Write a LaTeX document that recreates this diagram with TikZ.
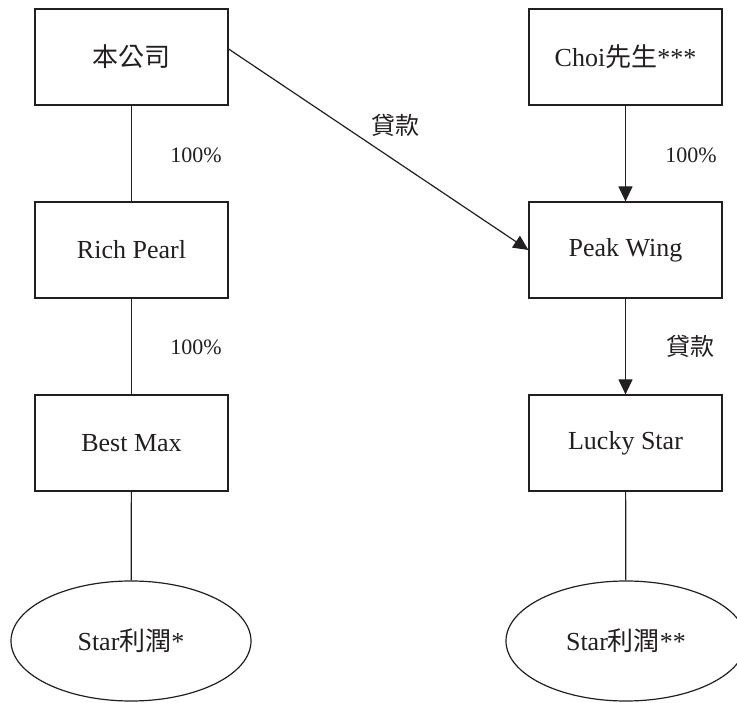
\documentclass[tikz,border=0pt]{standalone}
\usepackage{fontspec}
\setmainfont{Liberation Serif}
\newfontfamily\cjk{Noto Sans CJK TC}
\usetikzlibrary{arrows.meta,shapes.geometric}
\definecolor{ink}{HTML}{231F20}
\begin{document}
\begin{tikzpicture}[x=1pt,y=-1pt,
  box/.style={draw=ink,line width=1.2pt,minimum width=193pt,minimum height=96pt,inner sep=0pt,font=\fontsize{26}{30}\selectfont,text=ink},
  oval/.style={draw=ink,ellipse,line width=1.2pt,minimum width=240pt,minimum height=120pt,inner sep=0pt,font=\fontsize{26}{30}\selectfont,text=ink},
  conn/.style={draw=ink,line width=1.2pt},
  arr/.style={conn,-{Triangle[length=15pt,width=14pt]}},
  pct/.style={font=\fontsize{22}{26}\selectfont,text=ink,inner sep=0pt},
  loan/.style={font=\cjk\fontsize{24}{28}\selectfont,text=ink,inner sep=0pt}]
\clip (0,0) rectangle (737,703);
\fill[white] (0,0) rectangle (737,703);
% left column
\node[box] (ben) at (131.5,57) {{\cjk 本公司}};
\node[box] (rp) at (131.5,250) {Rich Pearl};
\node[box] (bm) at (131.5,443) {Best Max};
\node[oval] (s1) at (131,641) {Star{\cjk 利潤}*};
% right column
\node[box] (choi) at (625.5,57) {Choi{\cjk 先生}***};
\node[box] (pw) at (625.5,250) {Peak Wing};
\node[box] (ls) at (625.5,443) {Lucky Star};
\node[oval] (s2) at (626,641) {Star{\cjk 利潤}**};
% connectors
\draw[conn] (ben) -- (rp);
\draw[conn] (rp) -- (bm);
\draw[conn] (bm) -- (s1);
\draw[arr] (choi) -- (pw);
\draw[arr] (pw) -- (ls);
\draw[conn] (ls) -- (s2);
\draw[arr] ([yshift=8pt]ben.east) -- (pw.west);
% labels
\node[pct] (l1) at (196,155) {100\%};
\node[pct] (l2) at (196,347) {100\%};
\node[pct] (l3) at (691,155) {100\%};
\node[loan] (l4) at (395,125) {貸款};
\node[loan] (l5) at (690,346) {貸款};
\end{tikzpicture}
\end{document}
